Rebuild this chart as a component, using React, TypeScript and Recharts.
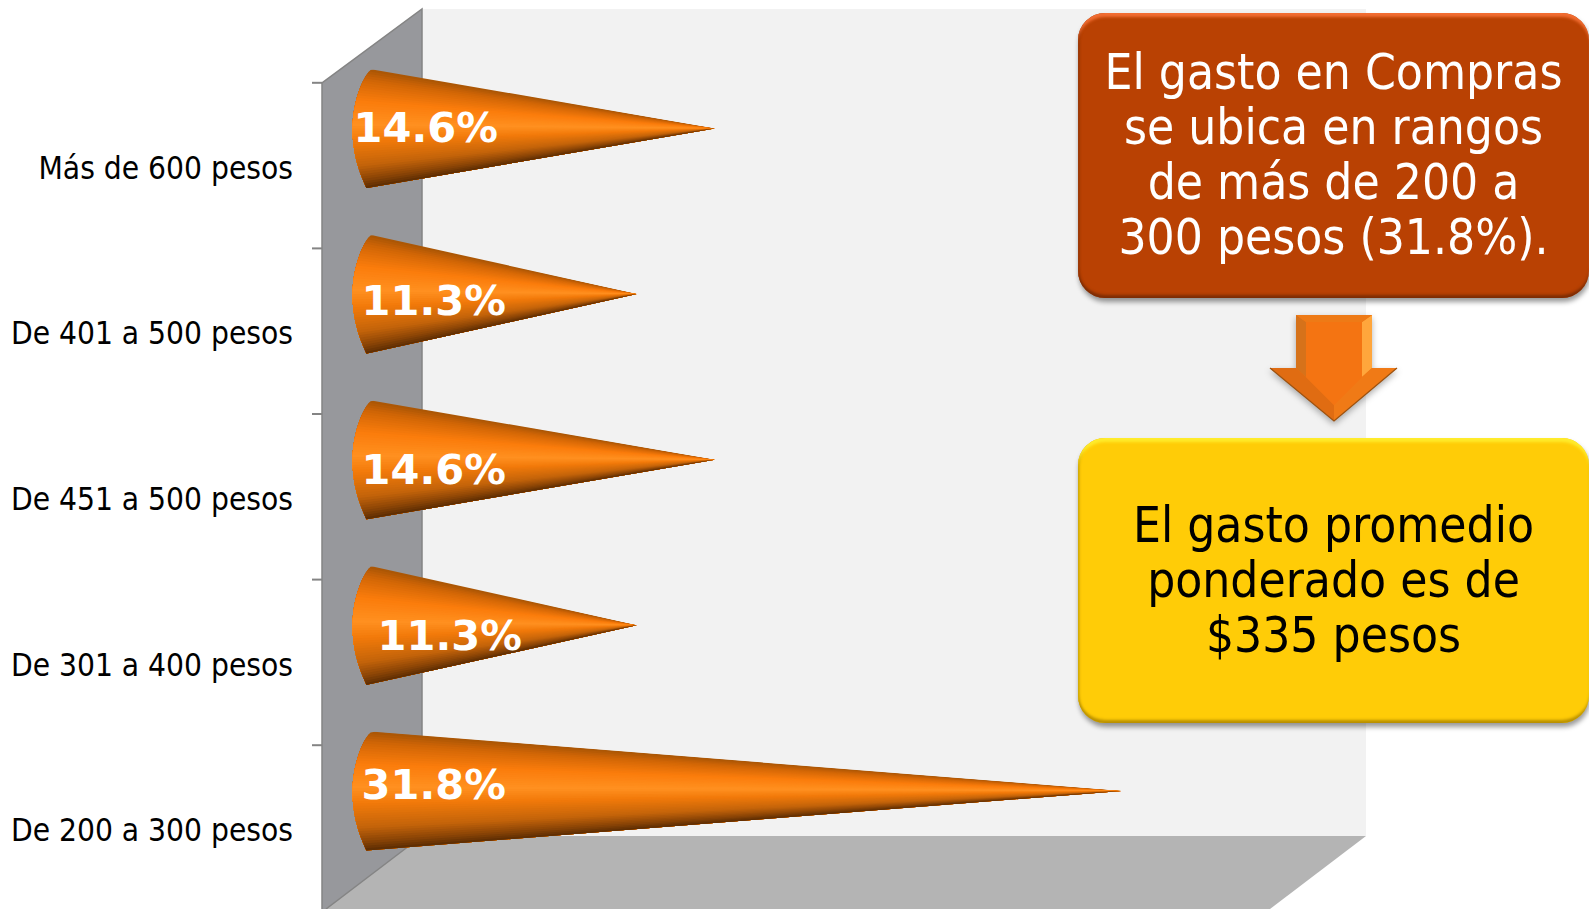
import { Bar, BarChart, LabelList, XAxis, YAxis } from 'recharts'

const categories = [
  'Más de 600 pesos',
  'De 401 a 500 pesos',
  'De 451 a 500 pesos',
  'De 301 a 400 pesos',
  'De 200 a 300 pesos',
]
const shares = [14.6, 11.3, 14.6, 11.3, 31.8]

const data = categories.map((label, i) => ({ label, share: shares[i] }))

// the labels sit by hand in the original, so each one has its own nudge
const labelNudgeX = [-16, -8, -8, 8, -8]
const labelNudgeY = [-1, 6, 10, 10, -6]

const shade = [
  [0, '#a85505'],
  [0.1, '#d26606'],
  [0.28, '#fb7d0c'],
  [0.47, '#ff9020'],
  [0.6, '#f27a0a'],
  [0.8, '#c4640a'],
  [0.92, '#8a4406'],
  [1, '#5a2c02'],
] as [number, string][]

function mix(t: number) {
  let k = 0
  while (k < shade.length - 2 && t > shade[k + 1][0]) k++
  const [t0, c0] = shade[k]
  const [t1, c1] = shade[k + 1]
  const f = (t - t0) / (t1 - t0)
  const ch = (c: string, p: number) => parseInt(c.slice(p, p + 2), 16)
  const part = (p: number) => Math.round(ch(c0, p) + (ch(c1, p) - ch(c0, p)) * f)
  return `rgb(${part(1)},${part(3)},${part(5)})`
}

function Cone(props: any) {
  const { x, y, width, height, index } = props
  const tipX = x + width
  const midY = y + height / 2
  const outline =
    `M${x + 7} ${y} L${tipX} ${midY} L${x - 3} ${y + height} ` +
    `C${x - 12} ${y + height * 0.84} ${x - 17} ${y + height * 0.68} ${x - 17} ${midY} ` +
    `C${x - 17} ${y + height * 0.3} ${x - 8} ${y + height * 0.08} ${x + 1} ${y + 1} Z`
  // fan of wedges meeting at the tip, each painted over the last so no seams show
  const wedges = []
  const count = 48
  const reach = 1 + 24 / width
  const endX = tipX - width * reach
  const endY = midY + (height / 2) * reach
  for (let i = 0; i < count; i++) {
    const a = midY + (y + (height * i) / count - midY) * reach
    wedges.push(
      <polygon key={i} points={`${tipX},${midY} ${endX},${a} ${endX},${endY}`} fill={mix((i + 0.5) / count)} />,
    )
  }
  return (
    <g>
      <clipPath id={`cone-${index}`}>
        <path d={outline} />
      </clipPath>
      <g clipPath={`url(#cone-${index})`}>{wedges}</g>
    </g>
  )
}

function CategoryTick(props: any) {
  const { y, payload } = props
  return (
    <g>
      <line x1={312} x2={322} y1={y - 46} y2={y - 46} stroke="#848484" strokeWidth={2} />
      <text
        x={293}
        y={y + 39}
        textAnchor="end"
        dominantBaseline="central"
        fontFamily="'DejaVu Sans Condensed', 'DejaVu Sans', sans-serif"
        fontSize={31.4}
        fill="#000"
      >
        {payload.value}
      </text>
    </g>
  )
}

function ShareLabel(props: any) {
  const { x, y, height, index, value } = props
  return (
    <text
      x={x + labelNudgeX[index]}
      y={y + height / 2 + labelNudgeY[index]}
      dominantBaseline="central"
      fontFamily="'DejaVu Sans', sans-serif"
      fontWeight="bold"
      fontSize={41.6}
      fill="#fff"
    >
      {value.toFixed(1)}%
    </text>
  )
}

function Room() {
  return (
    <svg width={1589} height={909} style={{ position: 'absolute', left: 0, top: 0 }}>
      <polygon points="422,9 1366,9 1366,836 422,836" fill="#f2f2f2" />
      <polygon points="422,836 1366,836 1270,909 326,909" fill="#b4b4b4" />
      <polygon points="422,9 422,836 326,909 322,909 322,83" fill="#97989c" />
      <polyline points="322,909 322,83 422,9 422,836 326,909" fill="none" stroke="#848484" strokeWidth={1.5} />
    </svg>
  )
}

function Callout({ lines, top, fill, ink, rim, edge, lift }: any) {
  return (
    <div
      style={{
        position: 'absolute',
        left: 1078,
        top,
        width: 511,
        height: 285,
        boxSizing: 'border-box',
        paddingBottom: lift,
        borderRadius: 27,
        background: fill,
        boxShadow: `inset 0 5px 3px -1px ${rim}, inset 0 -4px 3px -1px ${edge}, inset 3px 0 3px -2px ${edge}, 1px 4px 5px rgba(0,0,0,0.4)`,
        color: ink,
        display: 'flex',
        flexDirection: 'column',
        justifyContent: 'center',
        alignItems: 'center',
        fontFamily: "'DejaVu Sans Condensed', 'DejaVu Sans', sans-serif",
        fontSize: 49.2,
        lineHeight: '55px',
        whiteSpace: 'nowrap',
      }}
    >
      {lines.map((line: string) => (
        <div key={line}>{line}</div>
      ))}
    </div>
  )
}

function DownArrow() {
  return (
    <svg
      width={1589}
      height={909}
      style={{ position: 'absolute', left: 0, top: 0, filter: 'drop-shadow(0 3px 3px rgba(0,0,0,0.3))' }}
    >
      <polygon points="1296,315 1372,315 1372,368 1397,368 1334,421 1270,368 1296,368" fill="#f47412" />
      <polygon points="1296,315 1306,322 1306,377 1296,368" fill="#d6721a" />
      <polygon points="1362,322 1372,315 1372,368 1362,377" fill="#ffa63c" />
      <polygon points="1296,315 1372,315 1362,322 1306,322" fill="#ee7a16" />
      <polygon points="1270,368 1296,368 1306,377 1334,405 1334,421" fill="#e06c12" />
      <polygon points="1397,368 1372,368 1362,377 1334,405 1334,421" fill="#f07a16" />
      <polygon points="1306,322 1362,322 1362,377 1334,405 1306,377" fill="#f47412" />
      <polyline points="1270,368 1334,421 1397,368" fill="none" stroke="#9c5210" strokeWidth={1.2} />
    </svg>
  )
}

export default function App() {
  return (
    <div style={{ position: 'absolute', left: 0, top: 0, width: 1589, height: 909, overflow: 'hidden', background: '#fff' }}>
      <Room />
      <div style={{ position: 'absolute', left: 0, top: 0 }}>
        <BarChart
          width={1589}
          height={909}
          data={data}
          layout="vertical"
          margin={{ top: 46, right: 273, bottom: 35, left: 0 }}
        >
          <XAxis type="number" domain={[0, 40]} hide />
          <YAxis
            type="category"
            dataKey="label"
            width={369.5}
            axisLine={false}
            tickLine={false}
            interval={0}
            tick={<CategoryTick />}
          />
          <Bar dataKey="share" barSize={119} isAnimationActive={false} shape={<Cone />}>
            <LabelList dataKey="share" content={<ShareLabel />} />
          </Bar>
        </BarChart>
      </div>
      <Callout
        top={13}
        lift={1}
        lines={['El gasto en Compras', 'se ubica en rangos', 'de más de 200 a', '300 pesos (31.8%).']}
        fill="#b94103"
        ink="#fff"
        rim="#f26d32"
        edge="#7c2c04"
      />
      <DownArrow />
      <Callout
        top={438}
        lift={0}
        lines={['El gasto promedio', 'ponderado es de', '$335 pesos']}
        fill="#ffcc07"
        ink="#000"
        rim="#ffec2c"
        edge="#b99000"
      />
    </div>
  )
}
